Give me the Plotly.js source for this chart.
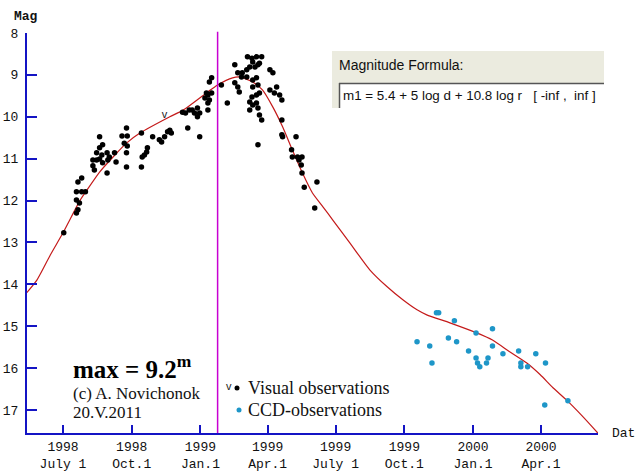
<!DOCTYPE html>
<html>
<head>
<meta charset="utf-8">
<script src="https://cdn.plot.ly/plotly-3.0.1.min.js"></script>
<style>html,body{margin:0;padding:0;background:#fff;}#chart{width:637px;height:474px;}</style>
</head>
<body>
<div id="chart"></div>
<script>
// Visual observations (date, magnitude)
const visDates = [
'1998-07-02','1998-07-21','1998-07-26','1998-07-19','1998-07-26','1998-07-31','1998-07-19','1998-07-23','1998-07-21','1998-07-19',
'1998-08-10','1998-08-15','1998-08-19','1998-08-10','1998-08-12','1998-08-15','1998-08-22','1998-08-19','1998-08-23','1998-08-29',
'1998-09-01','1998-08-30','1998-08-23','1998-08-29','1998-08-19','1998-09-08','1998-09-10','1998-09-18','1998-09-25','1998-09-24',
'1998-09-21','1998-09-25','1998-09-24','1998-09-24','1998-10-14','1998-10-15','1998-10-21','1998-10-22','1998-10-14','1998-10-18',
'1998-10-29','1998-11-10','1998-11-14','1998-11-21','1998-11-23','1998-11-07','1998-11-18','1998-12-15','1998-12-08','1998-12-12',
'1998-12-17','1998-12-21','1998-12-28','1998-12-28','1998-12-31','1998-12-31','1998-12-24','1999-01-07','1999-01-11','1999-01-11',
'1999-01-11','1999-01-13','1999-01-09','1999-01-16','1999-01-13','1999-01-16','1999-01-29','1999-02-06','1999-02-16','1999-02-16',
'1999-02-20','1999-02-22','1999-02-20','1999-02-26','1999-02-25','1999-03-04','1999-03-04','1999-03-08','1999-03-15','1999-03-19',
'1999-03-05','1999-03-11','1999-03-17','1999-03-24','1999-03-12','1999-03-21','1999-04-04','1999-04-08','1999-03-12','1999-03-17',
'1999-03-12','1999-03-19','1999-03-11','1999-03-17','1999-03-21','1999-04-13','1999-04-04','1999-04-10','1999-04-17','1999-04-20',
'1999-03-08','1999-03-12','1999-03-17','1999-03-08','1999-03-19','1999-03-21','1999-03-24','1999-03-19','1999-04-20','1999-04-20',
'1999-04-21','1999-05-09','1999-05-03','1999-05-04','1999-05-11','1999-05-17','1999-05-13','1999-05-16','1999-05-17','1999-05-20',
'1999-06-06','1999-06-03'
];
const visMags = [
12.77,11.56,11.46,11.79,11.79,11.79,11.99,12.06,12.22,12.30,
11.03,11.03,11.01,11.17,11.27,10.86,10.91,10.74,10.67,10.86,
10.96,11.03,11.10,11.34,10.48,10.86,11.08,10.46,10.46,10.27,
10.63,10.70,10.86,11.20,11.20,10.96,10.84,10.74,10.39,10.91,
10.48,10.60,10.48,10.32,10.39,10.55,10.36,10.27,9.89,9.91,
9.84,9.84,9.79,10.00,9.91,10.48,9.91,9.55,9.48,9.67,
9.84,9.60,9.43,9.43,9.17,9.07,9.24,9.67,8.76,9.19,
9.29,9.41,8.95,8.95,9.05,9.05,8.88,8.81,8.81,8.76,
8.57,8.60,8.57,8.57,8.69,8.72,8.88,8.95,9.12,9.07,
9.29,9.24,9.53,9.48,9.43,9.29,9.36,9.43,9.48,9.60,
9.65,9.72,9.67,9.84,9.79,9.96,10.08,10.67,10.08,10.43,
10.48,10.48,10.79,10.96,10.96,10.96,11.03,11.15,11.34,11.68,
11.56,12.18
];
// Visual observation marked "v"
const vDates = ['1998-11-14'];
const vMags = [9.96];
// CCD observations
const ccdDates = [
'1999-10-18','1999-11-04','1999-11-07','1999-11-13','1999-11-16','1999-11-29','1999-12-07','1999-12-10','1999-12-26',
'2000-01-05','2000-01-05','2000-01-07','2000-01-10','2000-01-19','2000-01-21','2000-01-27','2000-01-27','2000-02-10',
'2000-03-02','2000-03-05','2000-03-05','2000-03-14','2000-03-25','2000-04-07','2000-04-06','2000-05-07'
];
const ccdMags = [
15.37,15.47,15.88,14.68,14.68,15.28,14.87,15.37,15.59,
15.16,15.76,15.88,15.97,15.88,15.76,15.06,15.47,15.66,
15.59,15.88,15.97,15.97,15.66,15.88,16.88,16.78
];
// Model light curve  m1 = 5.4 + 5 log d + 10.8 log r
const curveDates = [
'1998-05-13','1998-05-27','1998-06-14','1998-07-01','1998-07-24','1998-08-02','1998-08-19','1998-09-06','1998-09-24','1998-10-12',
'1998-11-21','1998-12-09','1999-01-09','1999-01-24','1999-02-13','1999-02-23','1999-03-12','1999-03-25','1999-04-08','1999-04-21',
'1999-05-04','1999-05-17','1999-05-31','1999-06-14','1999-06-27','1999-07-20','1999-08-16','1999-09-08','1999-09-29','1999-10-18',
'1999-10-31','1999-12-01','2000-01-06','2000-01-27','2000-02-19','2000-03-13','2000-03-31','2000-04-17','2000-05-05','2000-05-27',
'2000-06-16'
];
const curveMags = [
14.21,13.90,13.30,12.77,11.99,11.75,11.32,10.96,10.63,10.39,
10.00,9.84,9.43,9.24,9.07,9.05,9.17,9.36,9.77,10.24,
10.79,11.32,11.82,12.15,12.46,13.01,13.66,14.06,14.37,14.61,
14.73,14.92,15.16,15.33,15.61,15.88,16.16,16.47,16.76,17.16,
17.55
];
const perihelionDate = '1999-01-24';
const tickDates = ['1998-07-01','1998-10-01','1999-01-01','1999-04-01','1999-07-01','1999-10-01','2000-01-01','2000-04-01'];
const tickLabels = ['1998<br>July 1','1998<br>Oct.1','1999<br>Jan.1','1999<br>Apr.1','1999<br>July 1','1999<br>Oct.1','2000<br>Jan.1','2000<br>Apr.1'];
const magTicks = [8,9,10,11,12,13,14,15,16,17];

const axisBlue = '#1414c4';
const tickFont = {family: 'Liberation Mono', size: 13, color: '#111'};
const serif = 'Liberation Serif';

const traces = [
  {x: curveDates, y: curveMags, type: 'scatter', mode: 'lines',
   line: {color: '#c41a1a', width: 1.2, shape: 'spline', smoothing: 0.6}, hoverinfo: 'skip'},
  {x: visDates, y: visMags, type: 'scatter', mode: 'markers',
   marker: {color: '#000', size: 5.5}, hoverinfo: 'skip'},
  {x: vDates, y: vMags, type: 'scatter', mode: 'text', text: ['v'],
   textfont: {family: 'Liberation Sans', size: 11, color: '#222'}, hoverinfo: 'skip'},
  {x: ccdDates, y: ccdMags, type: 'scatter', mode: 'markers',
   marker: {color: '#1e96c8', size: 5.5}, hoverinfo: 'skip'}
];

function px(x){ return (x-27)/571; }
function py(y){ return (433-y)/400; }

const layout = {
  width: 637, height: 474,
  margin: {l: 27, r: 39, t: 33, b: 41, pad: 0},
  paper_bgcolor: '#fff', plot_bgcolor: '#fff',
  showlegend: false,
  xaxis: {
    type: 'date', range: ['1998-05-13 19:00', '2000-06-16 07:00'], autorange: false,
    showgrid: false, zeroline: false,
    showline: true, linecolor: axisBlue, linewidth: 2,
    ticks: 'inside', ticklen: 8, tickwidth: 2, tickcolor: axisBlue,
    tickmode: 'array', tickvals: tickDates, ticktext: tickLabels,
    tickfont: tickFont
  },
  yaxis: {
    range: [17.55, 8], autorange: false,
    showgrid: false, zeroline: false,
    showline: true, linecolor: axisBlue, linewidth: 2,
    ticks: 'inside', ticklen: 10, tickwidth: 2, tickcolor: axisBlue,
    tickmode: 'array', tickvals: magTicks, ticktext: magTicks.map(String),
    tickfont: tickFont, ticklabelstandoff: 4
  },
  shapes: [
    {type: 'line', xref: 'x', yref: 'paper', x0: perihelionDate, x1: perihelionDate, y0: 0, y1: 1.003,
     line: {color: '#c800d2', width: 1.5}},
    // formula panel
    {type: 'rect', xref: 'paper', yref: 'paper', x0: px(332), x1: px(604), y0: py(108), y1: py(51),
     fillcolor: '#ebebdf', line: {width: 0}},
    {type: 'rect', xref: 'paper', yref: 'paper', x0: px(339), x1: px(604), y0: py(108), y1: py(83),
     fillcolor: '#ffffff', line: {width: 0}},
    {type: 'line', xref: 'paper', yref: 'paper', x0: px(339.5), x1: px(339.5), y0: py(108), y1: py(83),
     line: {color: '#555', width: 1.5}},
    {type: 'line', xref: 'paper', yref: 'paper', x0: px(339), x1: px(604), y0: py(83.5), y1: py(83.5),
     line: {color: '#555', width: 1.5}},
    // legend dots
    {type: 'circle', xref: 'paper', yref: 'paper', x0: px(234.5), x1: px(239.5), y0: py(390.5), y1: py(385.5),
     fillcolor: '#000', line: {width: 0}},
    {type: 'circle', xref: 'paper', yref: 'paper', x0: px(236.5), x1: px(241.5), y0: py(412.5), y1: py(407.5),
     fillcolor: '#1e96c8', line: {width: 0}}
  ],
  annotations: [
    {xref: 'paper', yref: 'paper', x: px(12), y: py(17), xanchor: 'left', yanchor: 'middle', showarrow: false,
     text: 'Mag', font: {family: 'Liberation Mono', size: 13, color: '#111', weight: 'bold'}},
    {xref: 'paper', yref: 'paper', x: px(610), y: py(433), xanchor: 'left', yanchor: 'middle', showarrow: false,
     text: 'Dat', font: tickFont},
    {xref: 'paper', yref: 'paper', x: px(71), y: py(367), xanchor: 'left', yanchor: 'middle', showarrow: false,
     text: '<b>max = 9.2<sup>m</sup></b>', font: {family: serif, size: 25, color: '#000'}},
    {xref: 'paper', yref: 'paper', x: px(71), y: py(393), xanchor: 'left', yanchor: 'middle', showarrow: false,
     text: '(c) A. Novichonok', font: {family: serif, size: 17, color: '#111'}},
    {xref: 'paper', yref: 'paper', x: px(71), y: py(412), xanchor: 'left', yanchor: 'middle', showarrow: false,
     text: '20.V.2011', font: {family: serif, size: 17, color: '#111'}},
    {xref: 'paper', yref: 'paper', x: px(224), y: py(386), xanchor: 'left', yanchor: 'middle', showarrow: false,
     text: 'v', font: {family: 'Liberation Sans', size: 11, color: '#222'}},
    {xref: 'paper', yref: 'paper', x: px(246), y: py(388), xanchor: 'left', yanchor: 'middle', showarrow: false,
     text: 'Visual observations', font: {family: serif, size: 18, color: '#111'}},
    {xref: 'paper', yref: 'paper', x: px(246), y: py(410), xanchor: 'left', yanchor: 'middle', showarrow: false,
     text: 'CCD-observations', font: {family: serif, size: 18, color: '#111'}},
    {xref: 'paper', yref: 'paper', x: px(337), y: py(65), xanchor: 'left', yanchor: 'middle', showarrow: false,
     text: 'Magnitude Formula:', font: {family: 'Liberation Sans', size: 14, color: '#111'}},
    {xref: 'paper', yref: 'paper', x: px(341), y: py(96), xanchor: 'left', yanchor: 'middle', showarrow: false,
     text: 'm1 = 5.4 + 5 log d + 10.8 log r   [ -inf ,  inf ]', font: {family: 'Liberation Sans', size: 13.4, color: '#111'}}
  ]
};

Plotly.newPlot('chart', traces, layout, {staticPlot: true, displayModeBar: false});
</script>
</body>
</html>
